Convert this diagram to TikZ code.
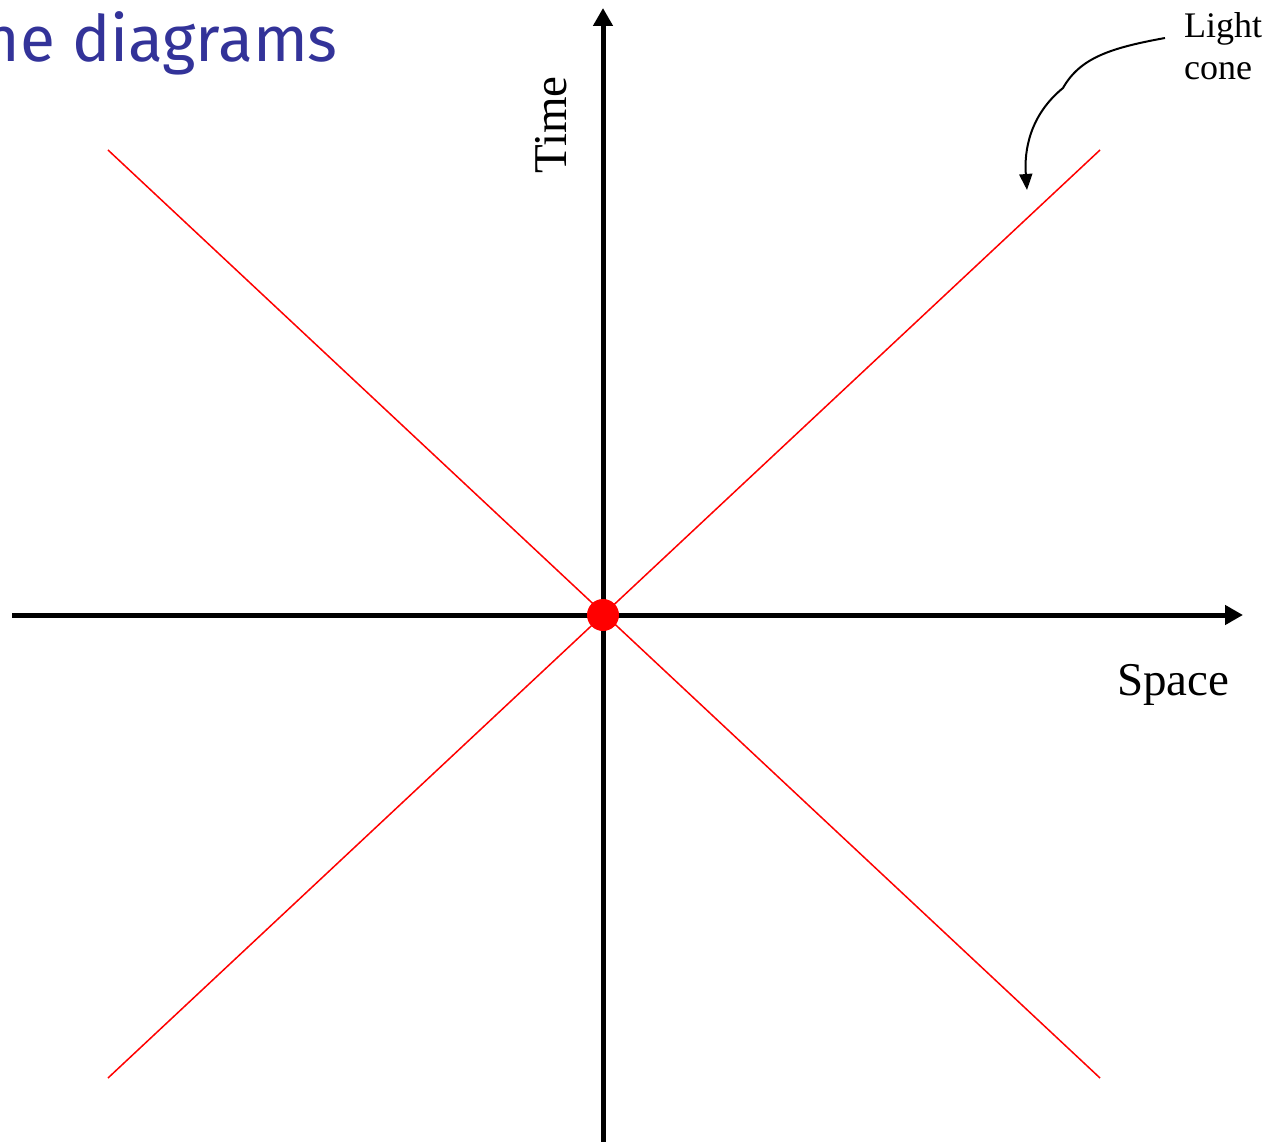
\documentclass[tikz,border=0pt]{standalone}
\usepackage{fontspec}
\setmainfont{Liberation Serif}
\newfontfamily\titlefont{Fira Sans}
\usetikzlibrary{arrows.meta}
\definecolor{titleblue}{RGB}{51,51,153}
\begin{document}
\begin{tikzpicture}[x=1pt,y=-1pt,
  axis/.style={line width=5pt,-{Triangle[length=18pt,width=19pt]}},
  cone/.style={red,line width=1.5pt},
  lbl/.style={inner sep=0pt,font=\fontsize{47}{56}\selectfont},
  note/.style={line width=2pt,-{Triangle[length=16pt,width=13pt]}}]
\useasboundingbox (0,0) rectangle (1270,1142);
\node[inner sep=0pt,anchor=base east,text=titleblue,font=\titlefont\fontsize{64}{70}\selectfont] (title) at (338,62) {ne diagrams};
% axes
\coordinate (xs) at (12,615);
\coordinate (xe) at (1243,615);
\coordinate (ys) at (603,1142);
\coordinate (ye) at (603,8);
\draw[axis] (xs) -- (xe);
\draw[axis] (ys) -- (ye);
% light cone
\coordinate (tl) at (108,150);
\coordinate (br) at (1100,1078);
\coordinate (bl) at (108,1078);
\coordinate (tr) at (1100,150);
\draw[cone] (tl) -- (br);
\draw[cone] (bl) -- (tr);
\node[circle,fill=red,inner sep=0pt,minimum size=32pt] (event) at (603,615) {};
% labels
\node[lbl,rotate=90,anchor=base] (time) at (566,125) {Time};
\node[lbl,anchor=base west] (space) at (1117,695) {Space};
\node[inner sep=0pt,anchor=base west,font=\fontsize{36}{42}\selectfont] (light) at (1184,38) {Light};
\node[inner sep=0pt,anchor=base west,font=\fontsize{36}{42}\selectfont] (cone) at (1184,80) {cone};
\coordinate (tip) at (1027,190);
\draw[note] (1165,38) .. controls (1110,48) and (1080,58) .. (1063,88)
  .. controls (1030,115) and (1024,150) .. (tip);
\end{tikzpicture}
\end{document}
